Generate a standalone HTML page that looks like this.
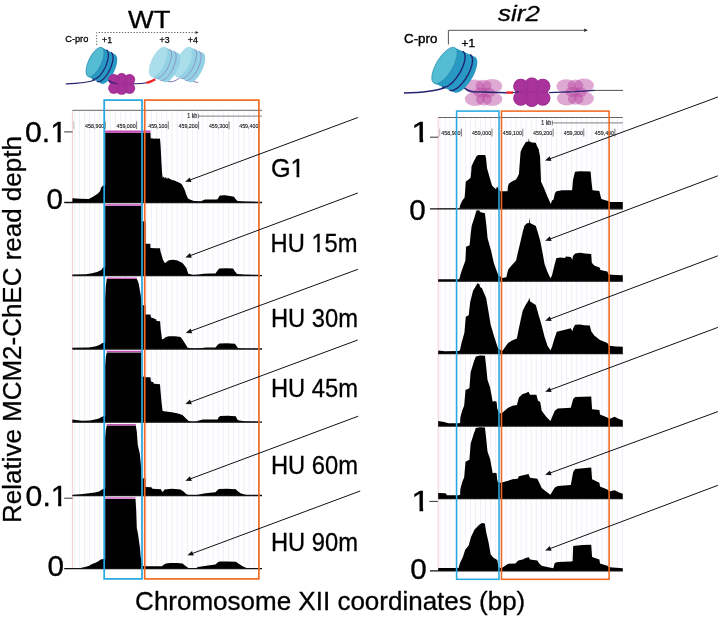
<!DOCTYPE html>
<html lang="en"><head><meta charset="utf-8"><title>MCM2-ChEC read depth</title>
<style>html,body{margin:0;padding:0;background:#fff}svg{display:block}</style></head>
<body>
<svg width="720" height="618" viewBox="0 0 720 618" font-family="'Liberation Sans', Arial, sans-serif" fill="#000">
<rect width="720" height="618" fill="#fff"/>
<defs><clipPath id="c1"><path clip-rule="evenodd" d="M-20 -60H600V30H-20ZM20.18 -2.87H25.48V4H20.18ZM28.19 -2.87H33.30V4H28.19Z"/></clipPath><clipPath id="c2"><path clip-rule="evenodd" d="M-20 -60H600V30H-20ZM43.79 -2.87H49.09V4H43.79ZM51.80 -2.87H56.91V4H51.80Z"/></clipPath><clipPath id="c3"><path clip-rule="evenodd" d="M-20 -60H600V30H-20ZM25.55 -3.21H31.88V4H25.55ZM35.00 -3.21H41.09V4H35.00Z"/></clipPath><clipPath id="c4"><path clip-rule="evenodd" d="M-20 -60H600V30H-20ZM25.55 -3.21H31.88V4H25.55ZM35.00 -3.21H41.09V4H35.00Z"/></clipPath><clipPath id="c5"><path clip-rule="evenodd" d="M-20 -60H600V30H-20ZM0.87 -3.21H7.19V4H0.87ZM10.31 -3.21H16.40V4H10.31Z"/></clipPath><clipPath id="c6"><path clip-rule="evenodd" d="M-20 -60H600V30H-20ZM0.87 -3.21H7.19V4H0.87ZM10.31 -3.21H16.40V4H10.31Z"/></clipPath></defs>
<path d="M74.30 110.3V568.7M79.44 110.3V568.7M84.58 110.3V568.7M89.72 110.3V568.7M94.86 110.3V568.7M100.00 110.3V568.7M105.14 110.3V568.7M110.28 110.3V568.7M115.42 110.3V568.7M120.56 110.3V568.7M125.70 110.3V568.7M130.84 110.3V568.7M135.98 110.3V568.7M141.12 110.3V568.7M146.26 110.3V568.7M151.40 110.3V568.7M156.54 110.3V568.7M161.68 110.3V568.7M166.82 110.3V568.7M171.96 110.3V568.7M177.10 110.3V568.7M182.24 110.3V568.7M187.38 110.3V568.7M192.52 110.3V568.7M197.66 110.3V568.7M202.80 110.3V568.7M207.94 110.3V568.7M213.08 110.3V568.7M218.22 110.3V568.7M223.36 110.3V568.7M228.50 110.3V568.7M233.64 110.3V568.7M238.78 110.3V568.7M243.92 110.3V568.7M249.06 110.3V568.7M254.20 110.3V568.7M259.34 110.3V568.7" stroke="#e8eaf5" stroke-width="0.7" fill="none"/>
<path d="M72.4 110.3V568.7" stroke="#f7c4cc" stroke-width="0.9"/>
<path d="M72.4 110.3H262.0" stroke="#555" stroke-width="0.9"/>
<path d="M198.4 116.2H262.0" stroke="#999" stroke-width="1.3"/>
<path d="M198.4 113.8V118.6" stroke="#555" stroke-width="0.7"/>
<text x="197.3" y="118.3" font-size="6.3" text-anchor="end" fill="#111" stroke="#111" stroke-width="0.12" transform="translate(197.3 0) scale(0.85 1) translate(-197.3 0)">1 kb</text>
<path d="M73.8 121.4V129.2" stroke="#aaa" stroke-width="0.7"/>
<path d="M105.2 121.4V129.2" stroke="#444" stroke-width="0.7"/>
<text x="104.3" y="128.0" font-size="5.9" text-anchor="end" fill="#111" stroke="#111" stroke-width="0.12" transform="translate(104.3 0) scale(0.9 1) translate(-104.3 0)">458,900</text>
<path d="M136.6 121.4V129.2" stroke="#444" stroke-width="0.7"/>
<text x="135.7" y="128.0" font-size="5.9" text-anchor="end" fill="#111" stroke="#111" stroke-width="0.12" transform="translate(135.7 0) scale(0.9 1) translate(-135.7 0)">459,000</text>
<path d="M168.3 121.4V129.2" stroke="#444" stroke-width="0.7"/>
<text x="167.4" y="128.0" font-size="5.9" text-anchor="end" fill="#111" stroke="#111" stroke-width="0.12" transform="translate(167.4 0) scale(0.9 1) translate(-167.4 0)">459,100</text>
<path d="M198.6 121.4V129.2" stroke="#444" stroke-width="0.7"/>
<text x="197.7" y="128.0" font-size="5.9" text-anchor="end" fill="#111" stroke="#111" stroke-width="0.12" transform="translate(197.7 0) scale(0.9 1) translate(-197.7 0)">459,200</text>
<path d="M229.0 121.4V129.2" stroke="#444" stroke-width="0.7"/>
<text x="228.1" y="128.0" font-size="5.9" text-anchor="end" fill="#111" stroke="#111" stroke-width="0.12" transform="translate(228.1 0) scale(0.9 1) translate(-228.1 0)">459,300</text>
<path d="M259.3 121.4V129.2" stroke="#444" stroke-width="0.7"/>
<text x="258.4" y="128.0" font-size="5.9" text-anchor="end" fill="#111" stroke="#111" stroke-width="0.12" transform="translate(258.4 0) scale(0.9 1) translate(-258.4 0)">459,400</text>
<path d="M440.10 117.5V570.9M445.16 117.5V570.9M450.22 117.5V570.9M455.28 117.5V570.9M460.34 117.5V570.9M465.40 117.5V570.9M470.46 117.5V570.9M475.52 117.5V570.9M480.58 117.5V570.9M485.64 117.5V570.9M490.70 117.5V570.9M495.76 117.5V570.9M500.82 117.5V570.9M505.88 117.5V570.9M510.94 117.5V570.9M516.00 117.5V570.9M521.06 117.5V570.9M526.12 117.5V570.9M531.18 117.5V570.9M536.24 117.5V570.9M541.30 117.5V570.9M546.36 117.5V570.9M551.42 117.5V570.9M556.48 117.5V570.9M561.54 117.5V570.9M566.60 117.5V570.9M571.66 117.5V570.9M576.72 117.5V570.9M581.78 117.5V570.9M586.84 117.5V570.9M591.90 117.5V570.9M596.96 117.5V570.9M602.02 117.5V570.9M607.08 117.5V570.9M612.14 117.5V570.9M617.20 117.5V570.9M622.26 117.5V570.9" stroke="#e8eaf5" stroke-width="0.7" fill="none"/>
<path d="M438.2 117.5V570.9" stroke="#f7c4cc" stroke-width="0.9"/>
<path d="M438.2 117.5H622.8" stroke="#555" stroke-width="0.9"/>
<path d="M552.4 122.9H622.8" stroke="#999" stroke-width="1.3"/>
<path d="M552.4 120.5V125.3" stroke="#555" stroke-width="0.7"/>
<text x="551.3" y="125.0" font-size="6.3" text-anchor="end" fill="#111" stroke="#111" stroke-width="0.12" transform="translate(551.3 0) scale(0.85 1) translate(-551.3 0)">1 kb</text>
<path d="M439.6 128.7V136.5" stroke="#aaa" stroke-width="0.7"/>
<path d="M461.4 128.7V136.5" stroke="#444" stroke-width="0.7"/>
<text x="460.5" y="135.3" font-size="5.9" text-anchor="end" fill="#111" stroke="#111" stroke-width="0.12" transform="translate(460.5 0) scale(0.9 1) translate(-460.5 0)">458,900</text>
<path d="M492.0 128.7V136.5" stroke="#444" stroke-width="0.7"/>
<text x="491.1" y="135.3" font-size="5.9" text-anchor="end" fill="#111" stroke="#111" stroke-width="0.12" transform="translate(491.1 0) scale(0.9 1) translate(-491.1 0)">459,000</text>
<path d="M522.8 128.7V136.5" stroke="#444" stroke-width="0.7"/>
<text x="521.9" y="135.3" font-size="5.9" text-anchor="end" fill="#111" stroke="#111" stroke-width="0.12" transform="translate(521.9 0) scale(0.9 1) translate(-521.9 0)">459,100</text>
<path d="M553.1 128.7V136.5" stroke="#444" stroke-width="0.7"/>
<text x="552.2" y="135.3" font-size="5.9" text-anchor="end" fill="#111" stroke="#111" stroke-width="0.12" transform="translate(552.2 0) scale(0.9 1) translate(-552.2 0)">459,200</text>
<path d="M583.8 128.7V136.5" stroke="#444" stroke-width="0.7"/>
<text x="582.9" y="135.3" font-size="5.9" text-anchor="end" fill="#111" stroke="#111" stroke-width="0.12" transform="translate(582.9 0) scale(0.9 1) translate(-582.9 0)">459,300</text>
<path d="M614.9 128.7V136.5" stroke="#444" stroke-width="0.7"/>
<text x="614.0" y="135.3" font-size="5.9" text-anchor="end" fill="#111" stroke="#111" stroke-width="0.12" transform="translate(614.0 0) scale(0.9 1) translate(-614.0 0)">459,400</text>
<polygon fill="#000" points="72.4,202.5 72.4,198.2 80.0,198.8 88.7,199.0 92.5,197.0 95.0,195.6 97.5,193.7 100.0,191.2 101.2,187.6 103.0,185.6 105.2,185.4 105.2,132.7 150.5,132.7 150.7,138.6 152.0,138.2 154.0,138.8 156.0,138.4 158.0,138.8 160.0,138.6 160.6,146.0 161.3,160.0 162.0,172.0 162.6,177.8 164.0,176.6 164.6,178.4 166.0,177.0 166.8,178.8 168.4,178.0 170.0,178.9 172.0,180.0 174.5,180.6 177.0,181.8 179.5,182.8 181.5,184.0 183.0,186.5 185.0,190.4 186.0,194.0 188.0,198.5 190.5,199.8 194.0,201.0 201.0,201.3 203.0,200.3 205.0,199.5 210.0,199.6 215.5,199.6 217.6,199.3 218.8,197.0 220.0,195.5 225.0,195.3 230.0,196.0 234.0,196.7 235.5,199.0 237.5,201.0 245.0,201.6 260.0,201.9 260.0,202.5"/>
<path d="M64.2 202.5H262.0" stroke="#111" stroke-width="1.3"/>
<polygon fill="#000" points="72.4,275.7 72.4,274.4 86.0,274.2 92.0,273.2 97.0,271.9 101.0,270.2 103.0,267.4 105.2,266.9 105.2,205.9 141.2,205.9 141.3,221.3 145.5,221.5 145.5,243.8 150.3,243.8 150.5,248.1 156.0,248.3 160.0,248.2 160.6,252.0 162.0,256.4 163.0,260.0 165.0,263.3 167.0,261.5 169.0,260.3 173.0,259.8 177.6,260.6 180.0,261.8 182.5,263.0 184.5,265.5 186.4,268.0 187.3,271.0 188.3,273.7 193.0,274.7 198.0,274.6 204.0,273.7 210.0,273.6 215.5,273.5 217.5,270.5 219.4,268.4 226.0,268.2 233.0,268.6 235.0,271.5 237.0,273.9 245.0,274.6 260.0,274.8 260.0,275.7"/>
<path d="M72.4 275.7H262.0" stroke="#111" stroke-width="1.3"/>
<polygon fill="#000" points="72.4,349.0 72.4,347.7 88.5,347.5 95.0,346.6 99.0,345.2 102.0,343.3 104.0,342.5 105.2,342.2 105.2,299.0 105.8,286.0 106.8,279.1 136.8,279.1 137.8,281.0 138.8,284.0 140.7,295.3 141.7,305.0 145.5,305.5 145.5,314.6 150.4,314.6 151.0,317.4 153.5,318.3 156.2,319.6 156.6,320.9 160.1,321.2 160.8,330.0 162.0,339.4 164.0,338.6 166.0,337.0 169.0,336.2 175.0,336.2 180.5,337.0 182.5,339.5 184.4,342.6 186.0,345.0 187.6,347.8 193.0,348.4 200.0,348.2 206.0,347.6 215.5,347.4 217.5,345.0 219.4,343.4 227.0,343.2 235.0,343.8 236.5,346.0 238.0,348.3 246.0,348.7 260.0,348.8 260.0,349.0"/>
<path d="M72.4 349.0H262.0" stroke="#111" stroke-width="1.3"/>
<polygon fill="#000" points="72.4,422.2 72.4,419.6 76.0,420.0 82.0,420.7 90.0,420.6 95.0,419.6 99.0,418.4 102.0,416.7 104.0,416.0 105.2,415.8 105.2,366.0 105.8,357.0 106.8,352.4 141.2,352.4 141.3,376.5 145.5,376.8 145.5,377.2 150.4,377.3 151.0,381.6 153.3,382.2 154.0,383.8 160.0,384.2 160.6,392.0 161.6,403.0 162.6,411.0 166.0,411.4 172.0,412.2 178.0,413.4 182.5,415.0 185.0,417.5 188.3,420.8 191.0,421.5 196.0,421.6 199.0,420.6 203.0,419.6 208.0,419.4 217.5,419.4 218.8,417.0 220.4,416.0 228.0,415.8 235.8,416.2 236.8,418.5 238.0,420.3 244.5,421.2 260.0,421.6 260.0,422.2"/>
<path d="M72.4 422.2H262.0" stroke="#111" stroke-width="1.3"/>
<polygon fill="#000" points="72.4,495.5 72.4,495.0 81.0,494.3 89.0,493.3 95.0,492.5 99.0,491.5 101.8,489.8 103.5,488.8 105.2,488.5 105.2,438.0 105.8,430.0 106.8,425.6 135.8,425.6 136.8,431.7 137.8,445.3 139.7,453.0 140.7,462.8 141.7,478.3 145.5,478.6 145.5,487.0 151.4,487.2 152.5,488.8 161.0,489.2 162.0,491.8 163.2,491.5 164.5,489.4 172.0,488.8 180.5,489.4 183.5,491.5 186.5,494.2 188.3,495.0 196.0,495.2 198.0,494.8 204.0,493.6 210.0,492.8 215.5,492.3 217.5,490.0 219.0,489.0 227.0,488.8 235.8,489.2 238.0,491.5 241.0,493.5 246.5,495.0 260.0,495.2 260.0,495.5"/>
<path d="M72.4 495.5H262.0" stroke="#111" stroke-width="1.3"/>
<polygon fill="#000" points="72.4,568.7 72.4,568.1 80.4,567.9 86.0,566.7 89.2,565.7 92.0,564.1 95.0,563.1 98.0,561.5 100.8,559.5 103.0,558.9 105.2,558.7 105.2,498.9 135.5,498.9 136.2,510.0 136.8,528.0 138.2,535.0 138.8,539.7 140.0,548.0 140.7,557.2 141.7,561.0 143.0,566.0 147.0,566.2 155.0,566.2 162.0,566.2 164.0,564.6 166.0,563.4 170.0,562.9 177.0,562.9 182.5,563.4 185.0,565.5 188.3,568.0 196.0,568.2 198.0,567.0 203.0,566.2 208.0,565.5 215.5,564.6 217.5,562.6 219.5,561.6 227.0,561.4 236.0,561.8 239.0,564.0 243.0,566.5 246.7,568.0 260.0,568.2 260.0,568.7"/>
<path d="M64.2 568.7H262.0" stroke="#111" stroke-width="1.3"/>
<path d="M105.2 131.6H150.5" stroke="#c64db6" stroke-width="2.3"/>
<path d="M105.2 205.0H141.2" stroke="#c64db6" stroke-width="1.3"/>
<path d="M106.6 278.2H136.8" stroke="#c64db6" stroke-width="1.3"/>
<path d="M106.6 351.5H141.2" stroke="#c64db6" stroke-width="1.3"/>
<path d="M106.6 424.7H135.8" stroke="#c64db6" stroke-width="1.3"/>
<path d="M105.2 498.0H135.4" stroke="#c64db6" stroke-width="1.3"/>
<path d="M64.2 131.9H72.6" stroke="#333" stroke-width="1"/>
<path d="M64.2 498.2H72.6" stroke="#333" stroke-width="1"/>
<polygon fill="#000" points="438.2,208.8 438.2,208.4 459.5,208.3 460.0,205.8 462.0,201.0 464.6,197.5 465.2,190.0 465.8,181.6 468.0,180.0 470.6,177.7 471.2,172.0 471.6,166.0 474.0,161.0 476.5,156.3 478.0,155.0 485.2,155.0 486.0,158.0 487.0,168.0 489.5,177.0 492.0,185.4 494.0,187.5 496.0,189.3 497.0,186.4 498.0,188.0 500.0,191.3 507.5,191.3 508.0,186.0 509.0,183.5 512.0,181.5 514.0,180.4 516.0,179.6 517.5,177.0 519.0,173.8 519.6,165.0 520.6,152.0 522.0,148.5 524.0,145.0 526.0,141.7 528.4,141.7 528.8,137.9 529.4,141.5 532.0,142.5 535.7,142.7 537.0,146.0 538.6,149.0 540.0,156.3 540.6,170.0 541.0,181.6 544.0,188.0 547.0,195.5 550.8,203.9 552.0,200.5 553.5,199.5 555.0,193.0 556.6,191.3 562.0,190.3 572.1,190.3 573.0,180.0 575.0,171.8 580.0,171.3 590.6,171.6 591.5,182.0 592.5,190.3 599.3,191.0 600.3,195.0 601.3,199.0 608.0,201.0 610.0,202.0 622.8,202.0 622.8,208.8"/>
<path d="M430.0 208.8H622.8" stroke="#111" stroke-width="1.3"/>
<polygon fill="#000" points="438.2,281.2 438.2,279.2 459.2,279.2 460.8,273.5 462.6,268.2 465.4,260.6 466.1,246.7 469.6,245.3 470.6,235.0 471.7,225.8 474.4,217.5 476.5,210.6 479.3,210.3 480.0,212.0 484.9,213.3 485.6,219.0 486.3,224.4 487.6,238.3 491.1,250.8 493.9,263.3 496.0,269.0 498.0,274.4 502.2,278.0 506.4,277.2 507.4,272.5 508.5,268.9 512.0,265.0 516.1,260.6 518.0,252.0 520.3,242.5 522.7,232.0 524.4,225.8 527.0,223.3 529.0,223.0 529.4,217.5 530.0,223.0 533.0,224.5 535.8,226.0 538.0,233.0 540.2,240.8 542.4,252.0 544.6,264.2 547.5,272.0 550.4,278.2 551.9,275.8 554.0,267.0 556.3,258.3 560.0,257.6 565.0,258.0 566.0,256.5 570.8,256.9 572.3,259.8 573.0,256.0 575.2,253.4 580.0,252.8 585.0,253.6 591.2,254.0 591.8,262.7 594.2,265.6 600.0,267.7 600.3,270.0 607.3,271.5 608.7,274.4 616.0,275.0 622.8,275.2 622.8,281.2"/>
<path d="M438.2 281.2H622.8" stroke="#111" stroke-width="1.3"/>
<polygon fill="#000" points="438.2,353.6 438.2,350.4 445.0,351.2 458.5,351.0 460.0,350.2 461.5,342.9 464.4,332.7 465.8,316.7 468.7,315.2 470.2,302.0 473.1,290.4 476.0,286.0 477.5,283.3 479.5,284.2 480.0,287.0 481.9,288.0 484.0,293.0 486.2,298.3 488.4,311.0 490.6,324.6 494.0,336.0 497.9,347.9 500.0,349.6 502.3,351.1 508.1,342.9 512.0,340.5 516.9,338.5 518.9,328.3 522.7,310.8 525.6,305.0 528.5,300.6 529.4,297.7 530.2,301.5 535.8,305.0 538.7,315.2 541.7,325.4 544.6,337.1 547.5,345.8 550.4,350.2 551.9,347.3 554.0,340.0 556.8,331.8 563.0,330.2 570.8,328.3 572.3,331.2 573.5,327.5 575.2,324.8 580.0,324.4 584.0,325.2 589.8,325.4 591.2,331.2 594.2,335.6 600.0,340.0 607.3,342.9 609.3,345.8 616.0,346.4 622.8,346.7 622.8,353.6"/>
<path d="M438.2 353.6H622.8" stroke="#111" stroke-width="1.3"/>
<polygon fill="#000" points="438.2,426.1 438.2,420.9 444.0,422.0 448.5,423.2 458.5,423.2 460.1,423.1 460.4,417.3 462.3,410.2 464.2,405.6 465.5,390.1 469.4,388.2 470.7,372.0 473.9,361.6 475.9,356.5 480.0,355.6 484.9,355.8 486.2,366.8 487.5,379.8 490.1,387.5 492.7,401.7 494.6,401.1 496.6,401.7 497.2,408.2 498.5,412.1 499.4,413.6 502.3,412.7 508.1,407.8 512.5,405.7 516.9,404.9 518.9,397.6 522.7,394.1 526.0,393.0 528.5,391.7 530.0,394.7 536.4,394.7 537.9,400.5 540.2,402.0 541.7,410.7 546.0,416.5 550.4,420.9 554.8,410.7 557.7,408.4 570.8,407.8 573.2,399.0 575.2,397.0 591.2,396.4 592.1,409.2 599.4,410.1 600.0,414.5 607.3,417.4 609.3,418.9 614.6,416.8 619.0,418.9 622.8,420.3 622.8,426.1"/>
<path d="M438.2 426.1H622.8" stroke="#111" stroke-width="1.3"/>
<polygon fill="#000" points="438.2,498.5 438.2,492.9 445.5,493.2 447.0,495.2 458.5,495.2 460.1,494.7 460.4,488.9 462.3,481.8 464.2,477.2 465.5,461.7 469.4,459.8 470.7,443.6 473.9,433.2 475.9,428.1 480.0,427.2 484.9,427.4 486.2,438.4 487.5,451.4 490.1,459.1 492.7,473.3 494.6,472.7 496.6,473.3 497.2,479.8 497.9,482.2 500.8,482.7 508.1,480.7 512.5,479.2 517.7,478.7 518.9,476.3 524.2,474.9 528.5,474.0 530.0,477.8 537.3,478.7 539.3,482.7 541.7,488.0 546.0,491.5 550.4,494.7 554.8,487.4 557.7,486.0 570.8,485.1 573.2,472.0 575.2,469.0 591.2,467.6 592.1,479.2 599.4,482.7 600.0,486.5 607.3,489.5 609.3,491.5 614.6,490.3 619.0,492.4 622.8,493.8 622.8,498.5"/>
<path d="M438.2 498.5H622.8" stroke="#111" stroke-width="1.3"/>
<polygon fill="#000" points="438.2,570.9 438.2,568.0 458.5,568.0 460.0,562.9 462.9,557.1 465.2,549.8 468.7,545.4 471.1,536.7 474.6,529.4 479.0,525.0 481.9,522.9 484.8,523.5 486.2,532.3 488.6,542.5 490.6,554.2 493.5,557.7 497.3,560.0 498.5,567.3 501.4,568.2 505.2,565.8 508.1,563.8 515.4,563.5 518.3,560.6 522.7,559.4 525.6,558.0 528.8,557.2 530.0,559.4 537.3,560.6 539.3,563.5 541.7,565.8 546.0,566.7 553.3,568.2 554.8,562.9 557.7,562.0 570.8,561.5 572.6,561.3 573.2,546.0 582.0,545.0 591.2,544.8 592.1,557.1 599.4,559.4 600.0,563.5 607.3,565.8 609.3,567.3 622.8,568.2 622.8,570.9"/>
<path d="M430.0 570.9H622.8" stroke="#111" stroke-width="1.3"/>
<path d="M430 137.2H438.3" stroke="#333" stroke-width="1"/>
<path d="M429.4 501.4H437.8" stroke="#333" stroke-width="1"/>
<rect x="104.2" y="100.1" width="37.8" height="478.8" fill="none" stroke="#29a9e1" stroke-width="1.75"/>
<rect x="144.7" y="100.1" width="114.2" height="478.8" fill="none" stroke="#f26a21" stroke-width="1.7"/>
<rect x="456.6" y="111.1" width="42.4" height="468.2" fill="none" stroke="#29a9e1" stroke-width="1.55"/>
<rect x="501.5" y="111.1" width="107.6" height="468.2" fill="none" stroke="#f26a21" stroke-width="1.55"/>
<path d="M357.9 117.5L189.2 180.3" stroke="#111" stroke-width="1.0" fill="none"/><polygon fill="#111" points="185.1,181.8 189.7,177.4 191.5,182.1"/>
<path d="M357.8 193.0L189.5 255.9" stroke="#111" stroke-width="1.0" fill="none"/><polygon fill="#111" points="185.4,257.4 190.0,252.9 191.8,257.7"/>
<path d="M357.9 269.3L189.9 331.4" stroke="#111" stroke-width="1.0" fill="none"/><polygon fill="#111" points="185.8,332.9 190.5,328.5 192.2,333.2"/>
<path d="M357.7 340.0L189.5 402.5" stroke="#111" stroke-width="1.0" fill="none"/><polygon fill="#111" points="185.4,404.0 190.0,399.6 191.8,404.3"/>
<path d="M358.2 416.2L189.5 479.2" stroke="#111" stroke-width="1.0" fill="none"/><polygon fill="#111" points="185.4,480.7 190.0,476.2 191.8,481.0"/>
<path d="M360.2 491.0L191.5 553.8" stroke="#111" stroke-width="1.0" fill="none"/><polygon fill="#111" points="187.4,555.3 192.0,550.9 193.8,555.6"/>
<path d="M717.9 97.0L549.1 159.1" stroke="#111" stroke-width="1.0" fill="none"/><polygon fill="#111" points="545.0,160.6 549.7,156.2 551.4,161.0"/>
<path d="M717.9 175.8L549.3 239.3" stroke="#111" stroke-width="1.0" fill="none"/><polygon fill="#111" points="545.2,240.8 549.8,236.3 551.6,241.1"/>
<path d="M717.9 255.8L549.3 319.3" stroke="#111" stroke-width="1.0" fill="none"/><polygon fill="#111" points="545.2,320.8 549.8,316.3 551.6,321.1"/>
<path d="M717.9 327.4L549.3 390.2" stroke="#111" stroke-width="1.0" fill="none"/><polygon fill="#111" points="545.2,391.7 549.8,387.3 551.6,392.0"/>
<path d="M717.9 411.6L549.3 473.3" stroke="#111" stroke-width="1.0" fill="none"/><polygon fill="#111" points="545.2,474.8 549.9,470.4 551.6,475.2"/>
<path d="M717.9 485.3L549.3 548.9" stroke="#111" stroke-width="1.0" fill="none"/><polygon fill="#111" points="545.2,550.5 549.8,546.0 551.6,550.8"/>
<path d="M96.7 45V32.5H196" stroke="#555" stroke-width="0.9" stroke-dasharray="1.3 1.6" fill="none"/>
<polygon points="198.6,32.5 195.6,31 195.6,34" fill="#333"/>
<path d="M65.8 83.8C78 83.6 88 83 96 79.5" stroke="#26236f" stroke-width="1.3" fill="none"/>
<path d="M107.5 79C111 82 114 83.6 120 83.8H133.3C138 83.9 142 83.8 146.5 82.8" stroke="#26236f" stroke-width="1.1" fill="none"/>
<path d="M146.3 82.9C149.5 82.3 152.5 81 155.3 79.2" stroke="#f0252a" stroke-width="2.2" fill="none"/>
<path d="M167.5 81.3C172 82.8 177 80.5 181 76.5" stroke="#6a62a8" stroke-width="0.9" fill="none"/>
<path d="M192.5 80.6C194 81.8 196 82.4 198 82.4" stroke="#6a62a8" stroke-width="0.9" fill="none"/>
<polygon fill="#93d2e5" points="190.2,47.3 203.1,52.9 203.3,53.0 203.4,53.2 203.6,53.3 203.8,53.5 204.0,53.6 204.1,53.8 204.3,54.0 204.4,54.3 204.5,54.5 204.7,54.8 204.8,55.0 204.9,55.3 204.9,55.6 205.0,55.9 205.1,56.3 205.1,56.6 205.2,57.0 205.2,57.3 205.2,57.7 205.2,58.1 205.2,58.5 205.2,58.9 205.2,59.4 205.2,59.8 205.1,60.3 205.1,60.7 205.0,61.2 204.9,61.6 204.8,62.1 204.7,62.6 204.6,63.1 204.5,63.6 204.4,64.1 204.2,64.6 204.1,65.1 203.9,65.6 203.7,66.1 203.6,66.7 203.4,67.2 203.2,67.7 203.0,68.2 202.8,68.7 202.5,69.2 202.3,69.8 202.1,70.3 201.8,70.8 201.6,71.3 201.3,71.8 201.1,72.3 200.8,72.8 200.5,73.2 200.2,73.7 200.0,74.2 199.7,74.6 199.4,75.1 199.1,75.5 198.8,76.0 198.5,76.4 198.2,76.8 197.9,77.2 197.6,77.6 197.2,77.9 196.9,78.3 196.6,78.6 196.3,79.0 196.0,79.3 195.7,79.6 195.4,79.9 195.0,80.2 194.7,80.4 194.4,80.7 194.1,80.9 193.8,81.1 193.5,81.3 193.2,81.5 192.9,81.7 192.6,81.8 192.3,81.9 192.0,82.0 191.8,82.1 191.5,82.2 191.2,82.3 191.0,82.3 190.7,82.3 190.5,82.3 190.2,82.3 190.0,82.3 189.8,82.2 189.6,82.2 189.3,82.1 176.4,76.5"/><polyline fill="none" stroke="#8a72b4" stroke-width="0.70" points="194.4,49.2 194.6,49.3 194.8,49.4 195.0,49.5 195.2,49.7 195.3,49.9 195.5,50.1 195.6,50.3 195.8,50.5 195.9,50.7 196.0,51.0 196.1,51.3 196.2,51.6 196.3,51.9 196.4,52.2 196.4,52.5 196.5,52.9 196.5,53.2 196.6,53.6 196.6,54.0 196.6,54.4 196.6,54.8 196.6,55.2 196.5,55.6 196.5,56.1 196.5,56.5 196.4,57.0 196.3,57.4 196.3,57.9 196.2,58.4 196.1,58.9 196.0,59.4 195.8,59.8 195.7,60.4 195.6,60.9 195.4,61.4 195.3,61.9 195.1,62.4 194.9,62.9 194.7,63.4 194.5,63.9 194.3,64.5 194.1,65.0 193.9,65.5 193.7,66.0 193.4,66.5 193.2,67.0 192.9,67.5 192.7,68.0 192.4,68.5 192.2,69.0 191.9,69.5 191.6,70.0 191.3,70.4 191.0,70.9 190.7,71.3 190.4,71.8 190.1,72.2 189.8,72.6 189.5,73.0 189.2,73.4 188.9,73.8 188.6,74.2 188.3,74.5 188.0,74.9 187.7,75.2 187.3,75.6 187.0,75.9 186.7,76.1 186.4,76.4 186.1,76.7 185.8,76.9 185.5,77.2 185.2,77.4 184.9,77.6 184.6,77.7 184.3,77.9 184.0,78.1 183.7,78.2 183.4,78.3 183.1,78.4 182.9,78.5 182.6,78.5 182.3,78.6 182.1,78.6 181.8,78.6 181.6,78.6 181.4,78.5 181.1,78.5 180.9,78.4 180.7,78.3"/><polyline fill="none" stroke="#8a72b4" stroke-width="0.70" points="198.9,51.1 199.1,51.2 199.3,51.4 199.5,51.5 199.7,51.7 199.8,51.8 200.0,52.0 200.1,52.2 200.3,52.5 200.4,52.7 200.5,53.0 200.6,53.2 200.7,53.5 200.8,53.8 200.9,54.1 200.9,54.5 201.0,54.8 201.0,55.2 201.1,55.5 201.1,55.9 201.1,56.3 201.1,56.7 201.1,57.2 201.1,57.6 201.0,58.0 201.0,58.5 200.9,58.9 200.9,59.4 200.8,59.9 200.7,60.3 200.6,60.8 200.5,61.3 200.4,61.8 200.2,62.3 200.1,62.8 199.9,63.3 199.8,63.8 199.6,64.4 199.4,64.9 199.3,65.4 199.1,65.9 198.9,66.4 198.6,66.9 198.4,67.5 198.2,68.0 198.0,68.5 197.7,69.0 197.5,69.5 197.2,70.0 196.9,70.5 196.7,71.0 196.4,71.4 196.1,71.9 195.8,72.4 195.5,72.8 195.3,73.3 195.0,73.7 194.7,74.2 194.4,74.6 194.0,75.0 193.7,75.4 193.4,75.8 193.1,76.1 192.8,76.5 192.5,76.9 192.2,77.2 191.9,77.5 191.5,77.8 191.2,78.1 190.9,78.4 190.6,78.6 190.3,78.9 190.0,79.1 189.7,79.3 189.4,79.5 189.1,79.7 188.8,79.9 188.5,80.0 188.2,80.1 187.9,80.3 187.6,80.3 187.4,80.4 187.1,80.5 186.8,80.5 186.6,80.5 186.3,80.5 186.1,80.5 185.9,80.5 185.6,80.4 185.4,80.4 185.2,80.3"/><ellipse cx="183.3" cy="61.9" rx="6.5" ry="16.1" transform="rotate(25.2 183.3 61.9)" fill="#abdeeb" stroke="#9fd6e6" stroke-width="0.6"/>
<polygon fill="#93d2e5" points="165.1,47.3 178.1,52.9 178.3,53.0 178.4,53.2 178.6,53.3 178.8,53.5 179.0,53.6 179.1,53.8 179.3,54.0 179.4,54.3 179.5,54.5 179.7,54.8 179.8,55.0 179.9,55.3 179.9,55.6 180.0,55.9 180.1,56.3 180.1,56.6 180.2,57.0 180.2,57.3 180.2,57.7 180.2,58.1 180.2,58.5 180.2,58.9 180.2,59.4 180.2,59.8 180.1,60.3 180.1,60.7 180.0,61.2 179.9,61.6 179.8,62.1 179.7,62.6 179.6,63.1 179.5,63.6 179.4,64.1 179.2,64.6 179.1,65.1 178.9,65.6 178.7,66.1 178.6,66.7 178.4,67.2 178.2,67.7 178.0,68.2 177.8,68.7 177.5,69.2 177.3,69.8 177.1,70.3 176.8,70.8 176.6,71.3 176.3,71.8 176.1,72.3 175.8,72.8 175.5,73.2 175.2,73.7 175.0,74.2 174.7,74.6 174.4,75.1 174.1,75.5 173.8,76.0 173.5,76.4 173.2,76.8 172.9,77.2 172.6,77.6 172.2,77.9 171.9,78.3 171.6,78.6 171.3,79.0 171.0,79.3 170.7,79.6 170.4,79.9 170.0,80.2 169.7,80.4 169.4,80.7 169.1,80.9 168.8,81.1 168.5,81.3 168.2,81.5 167.9,81.7 167.6,81.8 167.3,81.9 167.0,82.0 166.8,82.1 166.5,82.2 166.2,82.3 166.0,82.3 165.7,82.3 165.5,82.3 165.2,82.3 165.0,82.3 164.8,82.2 164.6,82.2 164.3,82.1 151.3,76.5"/><polyline fill="none" stroke="#8a72b4" stroke-width="0.70" points="169.3,49.2 169.5,49.3 169.7,49.4 169.9,49.5 170.1,49.7 170.3,49.9 170.4,50.1 170.6,50.3 170.7,50.5 170.8,50.7 170.9,51.0 171.0,51.3 171.1,51.6 171.2,51.9 171.3,52.2 171.4,52.5 171.4,52.9 171.5,53.2 171.5,53.6 171.5,54.0 171.5,54.4 171.5,54.8 171.5,55.2 171.5,55.6 171.4,56.1 171.4,56.5 171.3,57.0 171.3,57.4 171.2,57.9 171.1,58.4 171.0,58.9 170.9,59.4 170.8,59.8 170.7,60.4 170.5,60.9 170.4,61.4 170.2,61.9 170.0,62.4 169.9,62.9 169.7,63.4 169.5,63.9 169.3,64.5 169.1,65.0 168.8,65.5 168.6,66.0 168.4,66.5 168.1,67.0 167.9,67.5 167.6,68.0 167.4,68.5 167.1,69.0 166.8,69.5 166.5,70.0 166.3,70.4 166.0,70.9 165.7,71.3 165.4,71.8 165.1,72.2 164.8,72.6 164.5,73.0 164.2,73.4 163.8,73.8 163.5,74.2 163.2,74.5 162.9,74.9 162.6,75.2 162.3,75.6 162.0,75.9 161.6,76.1 161.3,76.4 161.0,76.7 160.7,76.9 160.4,77.2 160.1,77.4 159.8,77.6 159.5,77.7 159.2,77.9 158.9,78.1 158.6,78.2 158.3,78.3 158.1,78.4 157.8,78.5 157.5,78.5 157.3,78.6 157.0,78.6 156.8,78.6 156.5,78.6 156.3,78.5 156.1,78.5 155.8,78.4 155.6,78.3"/><polyline fill="none" stroke="#8a72b4" stroke-width="0.70" points="173.9,51.1 174.1,51.2 174.3,51.4 174.5,51.5 174.6,51.7 174.8,51.8 175.0,52.0 175.1,52.2 175.3,52.5 175.4,52.7 175.5,53.0 175.6,53.2 175.7,53.5 175.8,53.8 175.9,54.1 175.9,54.5 176.0,54.8 176.0,55.2 176.0,55.5 176.1,55.9 176.1,56.3 176.1,56.7 176.1,57.2 176.0,57.6 176.0,58.0 176.0,58.5 175.9,58.9 175.8,59.4 175.7,59.9 175.7,60.3 175.6,60.8 175.5,61.3 175.3,61.8 175.2,62.3 175.1,62.8 174.9,63.3 174.8,63.8 174.6,64.4 174.4,64.9 174.2,65.4 174.0,65.9 173.8,66.4 173.6,66.9 173.4,67.5 173.2,68.0 172.9,68.5 172.7,69.0 172.4,69.5 172.2,70.0 171.9,70.5 171.6,71.0 171.4,71.4 171.1,71.9 170.8,72.4 170.5,72.8 170.2,73.3 169.9,73.7 169.6,74.2 169.3,74.6 169.0,75.0 168.7,75.4 168.4,75.8 168.1,76.1 167.8,76.5 167.5,76.9 167.1,77.2 166.8,77.5 166.5,77.8 166.2,78.1 165.9,78.4 165.6,78.6 165.3,78.9 165.0,79.1 164.6,79.3 164.3,79.5 164.0,79.7 163.7,79.9 163.5,80.0 163.2,80.1 162.9,80.3 162.6,80.3 162.3,80.4 162.1,80.5 161.8,80.5 161.6,80.5 161.3,80.5 161.1,80.5 160.8,80.5 160.6,80.4 160.4,80.4 160.2,80.3"/><ellipse cx="158.2" cy="61.9" rx="6.5" ry="16.1" transform="rotate(25.2 158.2 61.9)" fill="#abdeeb" stroke="#9fd6e6" stroke-width="0.6"/>
<polygon fill="#2899c2" points="102.1,47.6 115.2,54.6 115.4,54.8 115.6,54.9 115.8,55.1 115.9,55.2 116.1,55.4 116.2,55.6 116.4,55.9 116.5,56.1 116.6,56.4 116.7,56.6 116.8,56.9 116.9,57.2 117.0,57.5 117.0,57.9 117.1,58.2 117.1,58.6 117.2,58.9 117.2,59.3 117.2,59.7 117.2,60.1 117.2,60.5 117.1,61.0 117.1,61.4 117.1,61.9 117.0,62.3 116.9,62.8 116.9,63.2 116.8,63.7 116.7,64.2 116.6,64.7 116.4,65.2 116.3,65.7 116.2,66.2 116.0,66.7 115.9,67.2 115.7,67.7 115.5,68.3 115.3,68.8 115.1,69.3 114.9,69.8 114.7,70.3 114.5,70.8 114.3,71.4 114.0,71.9 113.8,72.4 113.5,72.9 113.3,73.4 113.0,73.9 112.8,74.4 112.5,74.8 112.2,75.3 111.9,75.8 111.6,76.2 111.3,76.7 111.0,77.1 110.7,77.6 110.4,78.0 110.1,78.4 109.8,78.8 109.5,79.2 109.2,79.5 108.9,79.9 108.6,80.2 108.2,80.6 107.9,80.9 107.6,81.2 107.3,81.5 107.0,81.8 106.7,82.0 106.4,82.3 106.1,82.5 105.8,82.7 105.5,82.9 105.2,83.1 104.9,83.3 104.6,83.4 104.3,83.5 104.0,83.6 103.7,83.7 103.4,83.8 103.2,83.9 102.9,83.9 102.7,83.9 102.4,83.9 102.2,83.9 101.9,83.9 101.7,83.8 101.5,83.8 101.3,83.7 101.1,83.6 88.0,76.6"/><polyline fill="none" stroke="#1f2370" stroke-width="1.20" points="106.4,49.9 106.6,50.1 106.8,50.2 107.0,50.4 107.1,50.5 107.3,50.7 107.4,50.9 107.6,51.2 107.7,51.4 107.8,51.7 107.9,51.9 108.0,52.2 108.1,52.5 108.2,52.8 108.3,53.2 108.3,53.5 108.3,53.9 108.4,54.3 108.4,54.6 108.4,55.0 108.4,55.4 108.4,55.9 108.4,56.3 108.3,56.7 108.3,57.2 108.2,57.6 108.2,58.1 108.1,58.6 108.0,59.0 107.9,59.5 107.8,60.0 107.7,60.5 107.5,61.0 107.4,61.5 107.2,62.0 107.1,62.5 106.9,63.1 106.7,63.6 106.6,64.1 106.4,64.6 106.2,65.1 105.9,65.6 105.7,66.2 105.5,66.7 105.3,67.2 105.0,67.7 104.8,68.2 104.5,68.7 104.2,69.2 104.0,69.7 103.7,70.1 103.4,70.6 103.1,71.1 102.8,71.5 102.6,72.0 102.3,72.4 102.0,72.9 101.7,73.3 101.3,73.7 101.0,74.1 100.7,74.5 100.4,74.9 100.1,75.2 99.8,75.6 99.5,75.9 99.2,76.2 98.8,76.5 98.5,76.8 98.2,77.1 97.9,77.3 97.6,77.6 97.3,77.8 97.0,78.0 96.7,78.2 96.4,78.4 96.1,78.6 95.8,78.7 95.5,78.8 95.2,79.0 94.9,79.0 94.7,79.1 94.4,79.2 94.1,79.2 93.9,79.2 93.6,79.2 93.4,79.2 93.2,79.2 92.9,79.1 92.7,79.1 92.5,79.0 92.3,78.9"/><polyline fill="none" stroke="#1f2370" stroke-width="1.20" points="111.0,52.4 111.2,52.5 111.4,52.7 111.6,52.8 111.7,53.0 111.9,53.2 112.0,53.4 112.2,53.6 112.3,53.9 112.4,54.1 112.5,54.4 112.6,54.7 112.7,55.0 112.8,55.3 112.8,55.6 112.9,56.0 112.9,56.3 113.0,56.7 113.0,57.1 113.0,57.5 113.0,57.9 113.0,58.3 113.0,58.7 112.9,59.2 112.9,59.6 112.8,60.1 112.7,60.5 112.7,61.0 112.6,61.5 112.5,62.0 112.4,62.5 112.2,63.0 112.1,63.5 112.0,64.0 111.8,64.5 111.7,65.0 111.5,65.5 111.3,66.0 111.1,66.5 110.9,67.1 110.7,67.6 110.5,68.1 110.3,68.6 110.1,69.1 109.8,69.6 109.6,70.1 109.3,70.6 109.1,71.1 108.8,71.6 108.6,72.1 108.3,72.6 108.0,73.1 107.7,73.5 107.4,74.0 107.1,74.4 106.8,74.9 106.5,75.3 106.2,75.7 105.9,76.1 105.6,76.5 105.3,76.9 105.0,77.3 104.7,77.7 104.4,78.0 104.1,78.3 103.7,78.7 103.4,79.0 103.1,79.3 102.8,79.5 102.5,79.8 102.2,80.0 101.9,80.3 101.6,80.5 101.3,80.7 101.0,80.9 100.7,81.0 100.4,81.2 100.1,81.3 99.8,81.4 99.5,81.5 99.3,81.6 99.0,81.6 98.7,81.7 98.5,81.7 98.2,81.7 98.0,81.7 97.8,81.6 97.5,81.6 97.3,81.5 97.1,81.4 96.9,81.3"/><ellipse cx="95.0" cy="62.1" rx="6.5" ry="16.1" transform="rotate(25.2 95.0 62.1)" fill="#55bdd3" stroke="#2482aa" stroke-width="0.6"/>
<g transform="translate(121.7 83.9)"><ellipse cx="0" cy="0" rx="11.5" ry="6.5" fill="#a9339b"/><ellipse cx="-7.9" cy="-4.3" rx="5.5" ry="5.6" fill="#a9339b"/><ellipse cx="0.0" cy="-5.3" rx="5.5" ry="5.6" fill="#a9339b"/><ellipse cx="7.9" cy="-4.3" rx="5.5" ry="5.6" fill="#a9339b"/><ellipse cx="-7.9" cy="4.3" rx="5.5" ry="5.6" fill="#a9339b"/><ellipse cx="0.0" cy="5.3" rx="5.5" ry="5.6" fill="#a9339b"/><ellipse cx="7.9" cy="4.3" rx="5.5" ry="5.6" fill="#a9339b"/><ellipse cx="-7.9" cy="-4.3" rx="5.2" ry="5.2" fill="none" stroke="#8c2784" stroke-width="0.5" stroke-opacity="0.55"/><ellipse cx="0.0" cy="-5.3" rx="5.2" ry="5.2" fill="none" stroke="#8c2784" stroke-width="0.5" stroke-opacity="0.55"/><ellipse cx="7.9" cy="-4.3" rx="5.2" ry="5.2" fill="none" stroke="#8c2784" stroke-width="0.5" stroke-opacity="0.55"/><ellipse cx="-7.9" cy="4.3" rx="5.2" ry="5.2" fill="none" stroke="#8c2784" stroke-width="0.5" stroke-opacity="0.55"/><ellipse cx="0.0" cy="5.3" rx="5.2" ry="5.2" fill="none" stroke="#8c2784" stroke-width="0.5" stroke-opacity="0.55"/><ellipse cx="7.9" cy="4.3" rx="5.2" ry="5.2" fill="none" stroke="#8c2784" stroke-width="0.5" stroke-opacity="0.55"/></g>
<path d="M108.5 80.2C111 82.2 113.5 83.4 117 83.7" stroke="#26236f" stroke-width="1.1" fill="none"/>
<path d="M448.4 44.5V30.3H586" stroke="#444" stroke-width="0.9" fill="none"/>
<polygon points="588,30.3 584.2,28.6 584.2,32" fill="#333"/>
<path d="M403.9 92.9C420 92.8 434 92 447 87" stroke="#26236f" stroke-width="1.5" fill="none"/>
<g transform="translate(483.6 92.5)"><ellipse cx="-9.3" cy="-6.0" rx="10.0" ry="7.0" fill="#b8439f" fill-opacity="0.46"/><ellipse cx="8.7" cy="-6.6" rx="10.0" ry="7.0" fill="#b8439f" fill-opacity="0.46"/><ellipse cx="-8.7" cy="6.6" rx="10.0" ry="7.0" fill="#b8439f" fill-opacity="0.46"/><ellipse cx="8.7" cy="6.6" rx="10.0" ry="7.0" fill="#b8439f" fill-opacity="0.46"/><ellipse cx="0.0" cy="-6.8" rx="8.0" ry="6.0" fill="#b8439f" fill-opacity="0.46"/><ellipse cx="0.3" cy="7.0" rx="8.0" ry="6.0" fill="#b8439f" fill-opacity="0.46"/><ellipse cx="-3.0" cy="0.0" rx="7.0" ry="5.0" fill="#b8439f" fill-opacity="0.46"/><ellipse cx="4.5" cy="0.2" rx="7.0" ry="5.0" fill="#b8439f" fill-opacity="0.46"/></g>
<g transform="translate(575.4 92.0)"><ellipse cx="-9.2" cy="-5.9" rx="9.9" ry="6.9" fill="#b8439f" fill-opacity="0.46"/><ellipse cx="8.6" cy="-6.5" rx="9.9" ry="6.9" fill="#b8439f" fill-opacity="0.46"/><ellipse cx="-8.6" cy="6.5" rx="9.9" ry="6.9" fill="#b8439f" fill-opacity="0.46"/><ellipse cx="8.6" cy="6.5" rx="9.9" ry="6.9" fill="#b8439f" fill-opacity="0.46"/><ellipse cx="0.0" cy="-6.7" rx="7.9" ry="5.9" fill="#b8439f" fill-opacity="0.46"/><ellipse cx="0.3" cy="6.9" rx="7.9" ry="5.9" fill="#b8439f" fill-opacity="0.46"/><ellipse cx="-3.0" cy="0.0" rx="6.9" ry="4.9" fill="#b8439f" fill-opacity="0.46"/><ellipse cx="4.5" cy="0.2" rx="6.9" ry="4.9" fill="#b8439f" fill-opacity="0.46"/></g>
<path d="M463 86.5C466 90 469 91.4 474 91.8L506.7 92.7" stroke="#26236f" stroke-width="1.5" fill="none"/>
<path d="M506.5 92.6H513" stroke="#f0252a" stroke-width="2.5" fill="none"/>
<path d="M549 92.6L575 91.6L594.5 90.4" stroke="#26236f" stroke-width="1.1" fill="none"/>
<path d="M594 90.4H623" stroke="#222" stroke-width="0.8" fill="none"/>
<g transform="translate(531.8 92.2)"><ellipse cx="0" cy="0" rx="16.0" ry="8.8" fill="#a9339b"/><ellipse cx="-11.0" cy="-5.9" rx="7.6" ry="7.6" fill="#a9339b"/><ellipse cx="0.0" cy="-7.2" rx="7.6" ry="7.6" fill="#a9339b"/><ellipse cx="11.0" cy="-5.9" rx="7.6" ry="7.6" fill="#a9339b"/><ellipse cx="-11.0" cy="5.9" rx="7.6" ry="7.6" fill="#a9339b"/><ellipse cx="0.0" cy="7.2" rx="7.6" ry="7.6" fill="#a9339b"/><ellipse cx="11.0" cy="5.9" rx="7.6" ry="7.6" fill="#a9339b"/><ellipse cx="-11.0" cy="-5.9" rx="7.2" ry="7.1" fill="none" stroke="#8c2784" stroke-width="0.5" stroke-opacity="0.55"/><ellipse cx="0.0" cy="-7.2" rx="7.2" ry="7.1" fill="none" stroke="#8c2784" stroke-width="0.5" stroke-opacity="0.55"/><ellipse cx="11.0" cy="-5.9" rx="7.2" ry="7.1" fill="none" stroke="#8c2784" stroke-width="0.5" stroke-opacity="0.55"/><ellipse cx="-11.0" cy="5.9" rx="7.2" ry="7.1" fill="none" stroke="#8c2784" stroke-width="0.5" stroke-opacity="0.55"/><ellipse cx="0.0" cy="7.2" rx="7.2" ry="7.1" fill="none" stroke="#8c2784" stroke-width="0.5" stroke-opacity="0.55"/><ellipse cx="11.0" cy="5.9" rx="7.2" ry="7.1" fill="none" stroke="#8c2784" stroke-width="0.5" stroke-opacity="0.55"/></g>
<path d="M512.8 92.6C515 92.6 517 92.3 519 91.6" stroke="#26236f" stroke-width="1.1" fill="none"/>
<polygon fill="#2899c2" points="454.7,47.7 474.8,56.7 475.1,56.9 475.3,57.0 475.6,57.2 475.8,57.4 476.0,57.6 476.2,57.9 476.4,58.2 476.5,58.4 476.7,58.7 476.8,59.1 476.9,59.4 477.0,59.8 477.1,60.1 477.2,60.5 477.2,60.9 477.3,61.4 477.3,61.8 477.3,62.3 477.3,62.8 477.3,63.2 477.2,63.7 477.2,64.3 477.1,64.8 477.0,65.3 476.9,65.9 476.8,66.4 476.7,67.0 476.5,67.6 476.4,68.2 476.2,68.8 476.0,69.4 475.8,70.0 475.6,70.6 475.4,71.2 475.2,71.9 474.9,72.5 474.6,73.1 474.4,73.8 474.1,74.4 473.8,75.0 473.5,75.7 473.1,76.3 472.8,76.9 472.5,77.6 472.1,78.2 471.7,78.8 471.4,79.4 471.0,80.0 470.6,80.6 470.2,81.2 469.8,81.8 469.4,82.4 469.0,83.0 468.6,83.5 468.1,84.1 467.7,84.6 467.3,85.1 466.8,85.6 466.4,86.1 466.0,86.6 465.5,87.1 465.1,87.5 464.6,88.0 464.2,88.4 463.8,88.8 463.3,89.2 462.9,89.6 462.4,89.9 462.0,90.2 461.6,90.5 461.1,90.8 460.7,91.1 460.3,91.4 459.9,91.6 459.5,91.8 459.1,92.0 458.7,92.2 458.3,92.3 457.9,92.5 457.5,92.6 457.2,92.6 456.8,92.7 456.5,92.7 456.1,92.8 455.8,92.8 455.5,92.7 455.2,92.7 454.9,92.6 454.6,92.5 454.4,92.4 434.3,83.3"/><polyline fill="none" stroke="#1f2370" stroke-width="1.40" points="462.6,51.2 462.8,51.4 463.1,51.5 463.3,51.7 463.5,51.9 463.7,52.1 463.9,52.4 464.1,52.6 464.3,52.9 464.4,53.2 464.5,53.5 464.6,53.9 464.7,54.2 464.8,54.6 464.9,55.0 465.0,55.4 465.0,55.8 465.0,56.3 465.0,56.7 465.0,57.2 465.0,57.7 465.0,58.2 464.9,58.7 464.9,59.3 464.8,59.8 464.7,60.4 464.6,60.9 464.4,61.5 464.3,62.1 464.1,62.7 464.0,63.3 463.8,63.9 463.6,64.5 463.4,65.1 463.1,65.7 462.9,66.3 462.6,67.0 462.4,67.6 462.1,68.2 461.8,68.9 461.5,69.5 461.2,70.1 460.9,70.8 460.5,71.4 460.2,72.0 459.8,72.7 459.5,73.3 459.1,73.9 458.7,74.5 458.3,75.1 457.9,75.7 457.5,76.3 457.1,76.9 456.7,77.4 456.3,78.0 455.9,78.5 455.5,79.1 455.0,79.6 454.6,80.1 454.1,80.6 453.7,81.1 453.3,81.6 452.8,82.0 452.4,82.4 451.9,82.9 451.5,83.3 451.1,83.7 450.6,84.0 450.2,84.4 449.7,84.7 449.3,85.0 448.9,85.3 448.5,85.6 448.0,85.8 447.6,86.1 447.2,86.3 446.8,86.5 446.4,86.6 446.0,86.8 445.6,86.9 445.3,87.0 444.9,87.1 444.6,87.2 444.2,87.2 443.9,87.2 443.6,87.2 443.2,87.2 442.9,87.1 442.6,87.1 442.4,87.0 442.1,86.9"/><polyline fill="none" stroke="#1f2370" stroke-width="1.40" points="470.0,54.6 470.3,54.7 470.5,54.9 470.8,55.0 471.0,55.2 471.2,55.5 471.4,55.7 471.5,56.0 471.7,56.3 471.8,56.6 472.0,56.9 472.1,57.2 472.2,57.6 472.3,58.0 472.3,58.4 472.4,58.8 472.4,59.2 472.5,59.6 472.5,60.1 472.5,60.6 472.4,61.1 472.4,61.6 472.4,62.1 472.3,62.6 472.2,63.2 472.1,63.7 472.0,64.3 471.9,64.8 471.7,65.4 471.6,66.0 471.4,66.6 471.2,67.2 471.0,67.8 470.8,68.4 470.6,69.1 470.3,69.7 470.1,70.3 469.8,71.0 469.5,71.6 469.2,72.2 468.9,72.9 468.6,73.5 468.3,74.1 468.0,74.8 467.6,75.4 467.3,76.0 466.9,76.6 466.5,77.2 466.2,77.9 465.8,78.5 465.4,79.1 465.0,79.6 464.6,80.2 464.2,80.8 463.7,81.3 463.3,81.9 462.9,82.4 462.5,82.9 462.0,83.5 461.6,84.0 461.1,84.4 460.7,84.9 460.3,85.4 459.8,85.8 459.4,86.2 458.9,86.6 458.5,87.0 458.1,87.4 457.6,87.7 457.2,88.1 456.7,88.4 456.3,88.7 455.9,88.9 455.5,89.2 455.1,89.4 454.7,89.6 454.2,89.8 453.9,90.0 453.5,90.1 453.1,90.3 452.7,90.4 452.3,90.5 452.0,90.5 451.6,90.6 451.3,90.6 451.0,90.6 450.7,90.5 450.4,90.5 450.1,90.4 449.8,90.3 449.5,90.2"/><ellipse cx="444.5" cy="65.5" rx="8.3" ry="20.6" transform="rotate(30.7 444.5 65.5)" fill="#55bdd3" stroke="#2482aa" stroke-width="0.6"/>
<text font-size="25" text-anchor="start" transform="translate(270.90 176.90) scale(1.008 1)" stroke="#000" stroke-width="0.30" clip-path="url(#c1)" style="font-kerning:none" >G1</text>
<text font-size="25" text-anchor="start" transform="translate(270.50 251.70) scale(0.950 1)" stroke="#000" stroke-width="0.30" clip-path="url(#c2)" style="font-kerning:none" >HU 15m</text>
<text font-size="25" text-anchor="start" transform="translate(270.90 326.50) scale(0.950 1)" stroke="#000" stroke-width="0.30" >HU 30m</text>
<text font-size="25" text-anchor="start" transform="translate(270.90 396.80) scale(0.950 1)" stroke="#000" stroke-width="0.30" >HU 45m</text>
<text font-size="25" text-anchor="start" transform="translate(270.90 474.40) scale(0.950 1)" stroke="#000" stroke-width="0.30" >HU 60m</text>
<text font-size="25" text-anchor="start" transform="translate(270.90 550.50) scale(0.950 1)" stroke="#000" stroke-width="0.30" >HU 90m</text>
<text font-size="23" text-anchor="start" transform="translate(127.90 28.10) scale(1.190 1)" stroke="#000" stroke-width="0.28" >WT</text>
<text font-size="22" text-anchor="start" transform="translate(498.00 21.30) scale(1.180 1)" stroke="#000" stroke-width="0.26" font-style="italic">sir2</text>
<text font-size="26" text-anchor="start" transform="translate(135.10 610.20) scale(1.000 1)" stroke="#000" stroke-width="0.31" >Chromosome XII coordinates (bp)</text>
<text font-size="25.2" stroke="#000" stroke-width="0.3" transform="translate(20.9 523) rotate(-90) scale(1.0315 1)">Relative MCM2-ChEC read depth</text>
<text font-size="29.6" text-anchor="start" transform="translate(25.00 141.50) scale(1.020 1)" stroke="#000" stroke-width="0.36" clip-path="url(#c3)" style="font-kerning:none" >0.1</text>
<text font-size="29.6" text-anchor="start" transform="translate(46.50 208.50) scale(1.000 1)" stroke="#000" stroke-width="0.36" >0</text>
<text font-size="29.6" text-anchor="start" transform="translate(25.60 506.30) scale(1.020 1)" stroke="#000" stroke-width="0.36" clip-path="url(#c4)" style="font-kerning:none" >0.1</text>
<text font-size="29.6" text-anchor="start" transform="translate(47.50 576.30) scale(1.000 1)" stroke="#000" stroke-width="0.36" >0</text>
<text font-size="29.6" text-anchor="start" transform="translate(411.30 142.10) scale(1.150 1)" stroke="#000" stroke-width="0.36" clip-path="url(#c5)" style="font-kerning:none" >1</text>
<text font-size="29.6" text-anchor="start" transform="translate(409.30 220.20) scale(1.000 1)" stroke="#000" stroke-width="0.36" >0</text>
<text font-size="29.6" text-anchor="start" transform="translate(411.30 511.00) scale(1.150 1)" stroke="#000" stroke-width="0.36" clip-path="url(#c6)" style="font-kerning:none" >1</text>
<text font-size="29.6" text-anchor="start" transform="translate(410.30 579.30) scale(1.000 1)" stroke="#000" stroke-width="0.36" >0</text>
<text font-size="8.5" text-anchor="start" transform="translate(65.20 41.70) scale(1.090 1)" stroke="#000" stroke-width="0.25">C-pro</text>
<text font-size="8.8" text-anchor="start" transform="translate(102.00 43.40) scale(1.000 1)" stroke="#000" stroke-width="0.25">+1</text>
<text font-size="8.8" text-anchor="start" transform="translate(159.60 43.40) scale(1.000 1)" stroke="#000" stroke-width="0.25">+3</text>
<text font-size="8.8" text-anchor="start" transform="translate(187.80 43.40) scale(1.000 1)" stroke="#000" stroke-width="0.25">+4</text>
<text font-size="12.6" text-anchor="start" transform="translate(404.00 42.70) scale(1.060 1)" stroke="#000" stroke-width="0.4">C-pro</text>
<text font-size="11.8" text-anchor="start" transform="translate(461.60 46.60) scale(1.000 1)" stroke="#000" stroke-width="0.35">+1</text>
</svg>
</body></html>
